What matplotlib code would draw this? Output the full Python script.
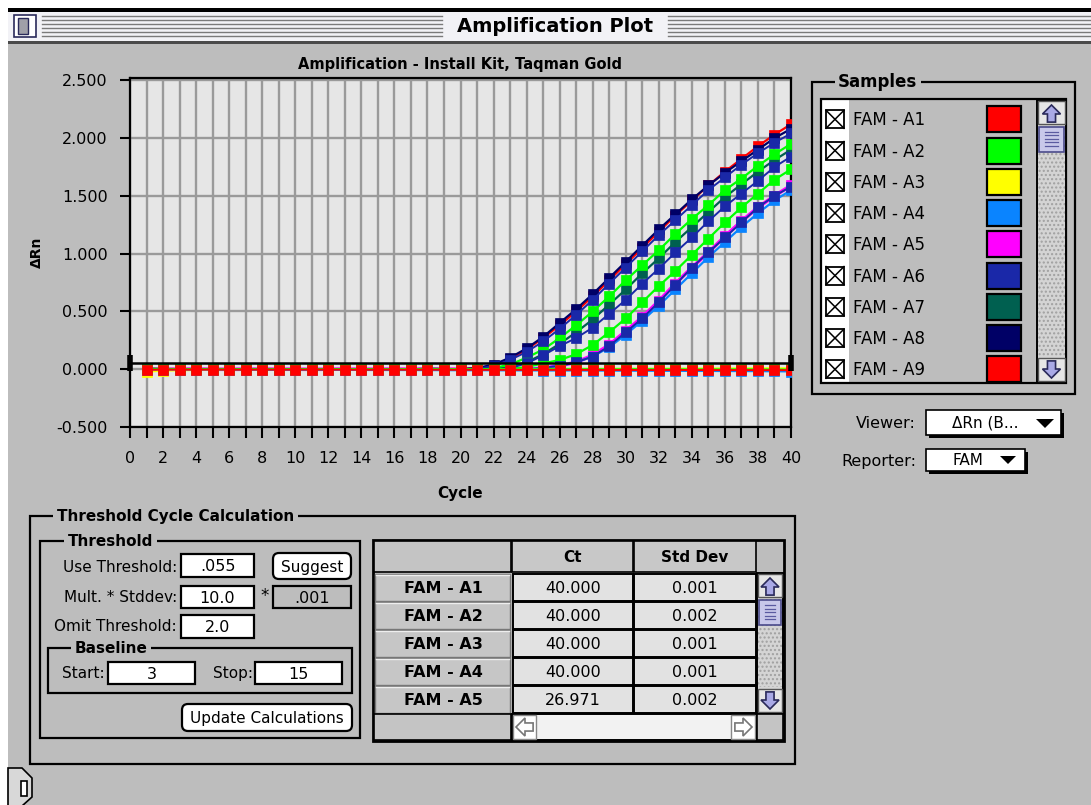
import matplotlib
matplotlib.use('Agg')
import matplotlib.pyplot as plt
from matplotlib.patches import Rectangle, FancyBboxPatch, Polygon

W, H = 1091, 805
BODY = '#bdbdbd'
PLOT_BG = '#e6e6e6'

# ---- data ----
cycles = list(range(1, 41))
rise_cycles = list(range(20, 41))

# baseline part (cycles 1-19) shared by the amplifying wells
pre_rise = [0.002, 0.001, 0.000, 0.001, 0.000, -0.001, 0.000, 0.001, 0.000, 0.000,
            -0.001, 0.000, 0.001, 0.000, 0.000, 0.001, 0.000, 0.002, 0.001]

# non-amplifying wells (cycles 1-40)
flat_a1 = [-0.004, -0.004, -0.003, -0.004, -0.003, -0.004, -0.004, -0.003, -0.004, -0.004,
           -0.003, -0.004, -0.004, -0.005, -0.004, -0.004, -0.005, -0.004, -0.005, -0.005,
           -0.005, -0.006, -0.005, -0.006, -0.006, -0.005, -0.006, -0.006, -0.007, -0.006,
           -0.007, -0.007, -0.006, -0.007, -0.007, -0.008, -0.007, -0.008, -0.008, -0.008]
flat_a2 = [0.004, 0.003, 0.003, 0.002, 0.003, 0.002, 0.002, 0.003, 0.002, 0.002,
           0.001, 0.002, 0.002, 0.001, 0.002, 0.001, 0.001, 0.002, 0.001, 0.001,
           0.002, 0.001, 0.001, 0.000, 0.001, 0.001, 0.000, 0.001, 0.000, 0.000,
           0.001, 0.000, 0.000, -0.001, 0.000, -0.001, 0.000, -0.001, -0.001, -0.002]
flat_a3 = [-0.022, -0.014, -0.010, -0.008, -0.006, -0.005, -0.004, -0.004, -0.003, -0.003,
           -0.002, -0.002, -0.001, -0.001, 0.000, 0.000, 0.000, 0.001, 0.001, 0.001,
           0.002, 0.002, 0.002, 0.003, 0.003, 0.003, 0.004, 0.004, 0.004, 0.005,
           0.005, 0.005, 0.006, 0.006, 0.007, 0.007, 0.008, 0.008, 0.009, 0.009]
flat_a4 = [-0.003, -0.003, -0.004, -0.004, -0.004, -0.005, -0.005, -0.005, -0.006, -0.006,
           -0.006, -0.007, -0.007, -0.007, -0.008, -0.008, -0.008, -0.009, -0.009, -0.010,
           -0.010, -0.010, -0.011, -0.011, -0.012, -0.012, -0.012, -0.013, -0.013, -0.014,
           -0.014, -0.015, -0.015, -0.016, -0.016, -0.017, -0.017, -0.018, -0.019, -0.020]

# amplifying wells (cycles 20-40)
rise_a = [0.00, 0.01, 0.04, 0.10, 0.18, 0.28, 0.40, 0.52, 0.65, 0.79, 0.93,
          1.07, 1.21, 1.34, 1.47, 1.59, 1.70, 1.80, 1.90, 2.00, 2.08]
rise_b = [0.00, 0.01, 0.03, 0.09, 0.17, 0.27, 0.38, 0.50, 0.63, 0.77, 0.91,
          1.05, 1.19, 1.33, 1.46, 1.59, 1.71, 1.82, 1.93, 2.03, 2.12]
rise_c = [0.00, 0.00, 0.03, 0.08, 0.15, 0.24, 0.35, 0.47, 0.60, 0.74, 0.88,
          1.02, 1.16, 1.29, 1.42, 1.55, 1.66, 1.77, 1.87, 1.96, 2.04]
rise_d = [0.00, 0.00, 0.01, 0.04, 0.10, 0.17, 0.27, 0.38, 0.50, 0.63, 0.77,
          0.90, 1.03, 1.17, 1.30, 1.42, 1.55, 1.65, 1.76, 1.86, 1.95]
rise_e = [0.00, 0.00, 0.00, 0.02, 0.06, 0.13, 0.22, 0.32, 0.43, 0.56, 0.69,
          0.83, 0.96, 1.10, 1.23, 1.36, 1.49, 1.60, 1.71, 1.81, 1.90]
rise_f = [0.00, 0.00, 0.00, 0.01, 0.05, 0.12, 0.20, 0.27, 0.36, 0.48, 0.60,
          0.74, 0.87, 1.01, 1.14, 1.28, 1.41, 1.52, 1.63, 1.75, 1.84]
rise_g = [0.00, 0.00, 0.00, 0.00, 0.02, 0.05, 0.08, 0.13, 0.21, 0.32, 0.44,
          0.58, 0.72, 0.85, 0.99, 1.13, 1.27, 1.40, 1.52, 1.64, 1.73]
rise_h = [0.00, 0.00, 0.00, 0.00, 0.00, 0.01, 0.03, 0.06, 0.11, 0.19, 0.30,
          0.42, 0.55, 0.69, 0.83, 0.97, 1.10, 1.23, 1.35, 1.46, 1.55]
rise_i = [0.00, 0.00, 0.00, 0.00, 0.00, 0.01, 0.03, 0.06, 0.12, 0.21, 0.33,
          0.45, 0.59, 0.74, 0.88, 1.01, 1.15, 1.28, 1.40, 1.50, 1.59]
rise_j = [0.00, 0.00, 0.00, 0.00, 0.00, 0.01, 0.03, 0.06, 0.11, 0.20, 0.32,
          0.44, 0.58, 0.73, 0.88, 1.01, 1.14, 1.27, 1.40, 1.50, 1.58]

threshold = 0.055

sample_names = ['FAM - A1', 'FAM - A2', 'FAM - A3', 'FAM - A4', 'FAM - A5',
                'FAM - A6', 'FAM - A7', 'FAM - A8', 'FAM - A9']
sample_colors = ['#ff0000', '#00ff00', '#ffff00', '#0a84ff', '#ff00ff',
                 '#1a28a8', '#006050', '#000066', '#ff0000']

table_names = ['FAM - A1', 'FAM - A2', 'FAM - A3', 'FAM - A4', 'FAM - A5']
table_ct = ['40.000', '40.000', '40.000', '40.000', '26.971']
table_std = ['0.001', '0.002', '0.001', '0.001', '0.002']

# draw order matters: later series sit on top
amp_series = [
    ('#ff00ff', rise_i, 2.6), ('#0a84ff', rise_h, 1.6), ('#ff0000', rise_b, 1.6),
    ('#006050', rise_e, 1.6), ('#000066', rise_a, 1.6), ('#00ff00', rise_d, 1.6),
    ('#00ff00', rise_g, 1.6), ('#1a28a8', rise_c, 1.4), ('#1a28a8', rise_f, 1.4),
    ('#1a28a8', rise_j, 1.4),
]
flat_series = [('#ffff00', flat_a3), ('#0a84ff', flat_a4), ('#00ff00', flat_a2), ('#ff0000', flat_a1)]

fig = plt.figure(figsize=(W / 100, H / 100), dpi=100)
fig.patch.set_facecolor('white')
bg = fig.add_axes([0, 0, 1, 1])
bg.set_xlim(0, W)
bg.set_ylim(H, 0)
bg.axis('off')


def box(x0, y0, x1, y1, fc='none', ec='black', lw=1.2, z=2, **kw):
    bg.add_patch(Rectangle((x0, y0), x1 - x0, y1 - y0, facecolor=fc, edgecolor=ec,
                           linewidth=lw, zorder=z, **kw))


def label(x, y, s, size=11, weight='normal', ha='left', va='center', color='black', z=5, **kw):
    bg.text(x, y, s, fontsize=size, fontweight=weight, ha=ha, va=va, color=color, zorder=z, **kw)


def group(x0, y0, x1, y1, title, tx, size=11):
    box(x0, y0, x1, y1, lw=1.6)
    bg.text(tx, y0, title, fontsize=size, fontweight='bold', ha='left', va='center', zorder=4,
            bbox=dict(facecolor=BODY, edgecolor='none', pad=2.5))


def field(x0, y0, x1, y1, text, fc='white', size=11.5):
    box(x0, y0, x1, y1, fc=fc, lw=1.6)
    label((x0 + x1) / 2, (y0 + y1) / 2 + 1, text, size, ha='center')


def button(x0, y0, x1, y1, text, size=11):
    bg.add_patch(FancyBboxPatch((x0, y0), x1 - x0, y1 - y0, boxstyle='round,pad=0,rounding_size=6',
                                facecolor='white', edgecolor='black', linewidth=1.6, zorder=2))
    label((x0 + x1) / 2, (y0 + y1) / 2 + 1, text, size, ha='center')


def arrow(cx, cy, s, direction, fc='#a9a9e6', ec='#2a2a5a'):
    pts = [(0, -1), (1, 0), (0.45, 0), (0.45, 0.9), (-0.45, 0.9), (-0.45, 0), (-1, 0)]
    if direction == 'down':
        pts = [(x, -y) for x, y in pts]
    elif direction == 'left':
        pts = [(y, x) for x, y in pts]
    elif direction == 'right':
        pts = [(-y, x) for x, y in pts]
    bg.add_patch(Polygon([(cx + x * s, cy + y * s) for x, y in pts], closed=True,
                         facecolor=fc, edgecolor=ec, linewidth=1.2, zorder=4))


def vscroll(x0, y0, x1, y1, thumb_h=25):
    box(x0, y0, x1, y1, fc='#d4d4d4', ec='black', lw=1.4)
    box(x0 + 1, y0 + 26, x1 - 1, y1 - 26, fc='#d4d4d4', ec='#a0a0a0', lw=0, hatch='....', z=2)
    box(x0 + 1, y0 + 1, x1 - 1, y0 + 24, fc='#e6e6e6', ec='#555555', lw=1)
    box(x0 + 1, y1 - 24, x1 - 1, y1 - 1, fc='#e6e6e6', ec='#555555', lw=1)
    arrow((x0 + x1) / 2, y0 + 14, 9, 'up')
    arrow((x0 + x1) / 2, y1 - 13, 9, 'down')
    box(x0 + 2, y0 + 27, x1 - 2, y0 + 27 + thumb_h, fc='#c8c8ea', ec='#4a4a8a', lw=1.2, z=3)
    for k in range(5):
        yy = y0 + 32 + k * 3.5
        bg.plot([x0 + 8, x1 - 8], [yy, yy], color='#5a5aa0', lw=0.9, zorder=4)


# ---- window chrome ----
box(8, 8, W + 1, H + 1, fc=BODY, ec='none', z=0)
box(8, 8, W + 1, 12, fc='black', ec='none', z=1)
box(8, 12, W + 1, 41, fc='#f2f2f6', ec='none', z=1)
for yy in [16, 20, 24, 28, 32, 36]:
    bg.plot([42, 442], [yy, yy], color='#7a7a7a', lw=1, zorder=2)
    bg.plot([668, W], [yy, yy], color='#7a7a7a', lw=1, zorder=2)
box(8, 41, W + 1, 44, fc='#4a4a4a', ec='none', z=1)
box(14, 15, 36, 37, fc='white', ec='#2a2a5a', lw=1.2, z=3)
box(18, 18, 28, 34, fc='#a0a0a8', ec='#2a2a5a', lw=1, z=3)
label(555, 27, 'Amplification Plot', 14, 'bold', ha='center')

# grow icon bottom-left
bg.add_patch(Polygon([(8, 768), (22, 768), (32, 778), (32, 797), (22, 806), (8, 806)],
                     closed=True, facecolor='#d8d8d8', edgecolor='black', linewidth=1.2, zorder=3))
box(21, 781, 27, 796, fc='white', ec='black', lw=1.2, z=4)

# ---- amplification plot ----
ax = fig.add_axes([130 / W, 1 - 427 / H, 661 / W, 349 / H])
ax.set_facecolor(PLOT_BG)
ax.set_xlim(0, 40)
ax.set_ylim(-0.5, 2.52)
ax.set_xticks(range(0, 41))
ax.set_xticklabels([str(c) if c % 2 == 0 else '' for c in range(0, 41)])
ax.set_yticks([-0.5, 0.0, 0.5, 1.0, 1.5, 2.0, 2.5])
ax.set_yticklabels(['%.3f' % v for v in [-0.5, 0.0, 0.5, 1.0, 1.5, 2.0, 2.5]])
ax.tick_params(axis='x', direction='out', length=8, width=1.5, labelsize=11.5, pad=9)
ax.tick_params(axis='y', direction='out', length=7, width=1.5, labelsize=11.5, pad=9)
ax.grid(True, color='#9a9a9a', linewidth=1.7)
ax.set_axisbelow(True)
for sp in ax.spines.values():
    sp.set_linewidth(1.6)

for color, vals, lw in amp_series:
    ax.plot(cycles, pre_rise + vals, color=color, lw=lw, marker='s', ms=7,
            mec=color, mew=0.5, zorder=3)
for color, vals in flat_series:
    ax.plot(cycles, vals, color=color, lw=1.4, marker='s', ms=7, mec=color, mew=0.5, zorder=4)

ax.axhline(threshold, color='black', lw=1.8, zorder=6)
ax.plot([0, 40], [threshold, threshold], ls='none', marker='|', ms=11, mew=4,
        color='black', clip_on=False, zorder=7)

label(460, 65, 'Amplification - Install Kit, Taqman Gold', 10.5, 'bold', ha='center')
label(460, 493, 'Cycle', 11, 'bold', ha='center')
label(37, 252, 'ΔRn', 10, 'bold', ha='center', rotation=90)

# ---- samples legend ----
group(812, 82, 1075, 394, 'Samples', 838, 12)
box(821, 99, 1066, 383, lw=1.6)
box(822, 100, 849, 382, fc='white', ec='none', z=1)
for i, (name, color) in enumerate(zip(sample_names, sample_colors)):
    cy = 119.3 + i * 31.25
    box(826, cy - 9, 844, cy + 9, fc='white', lw=1.3, z=3)
    bg.plot([826, 844], [cy - 9, cy + 9], color='black', lw=1.1, zorder=4)
    bg.plot([826, 844], [cy + 9, cy - 9], color='black', lw=1.1, zorder=4)
    label(853, cy + 1, name, 12)
    box(987, cy - 13, 1021, cy + 13, fc=color, lw=1.6, z=3)
vscroll(1037, 100, 1066, 382)

# viewer / reporter
label(916, 423, 'Viewer:', 11.5, ha='right')
box(929, 413, 1064, 438, fc='black', ec='none', z=2)
box(926, 410, 1061, 435, fc='white', lw=1.2, z=3)
label(952, 423, 'ΔRn (B...', 11, z=4)
bg.add_patch(Polygon([(1036, 419), (1054, 419), (1045, 428)], closed=True, facecolor='black', zorder=4))
label(916, 461, 'Reporter:', 11.5, ha='right')
box(929, 452, 1028, 474, fc='black', ec='none', z=2)
box(926, 449, 1025, 471, fc='white', lw=1.2, z=3)
label(952, 460, 'FAM', 11, z=4)
bg.add_patch(Polygon([(1000, 456), (1016, 456), (1008, 464)], closed=True, facecolor='black', zorder=4))

# ---- threshold cycle calculation ----
group(30, 516, 795, 764, 'Threshold Cycle Calculation', 57, 11)
group(40, 541, 360, 738, 'Threshold', 68, 11)
label(177, 567, 'Use Threshold:', 11, ha='right')
field(181, 554, 254, 577, '.055')
button(273, 553, 351, 579, 'Suggest')
label(177, 597, 'Mult. * Stddev:', 11, ha='right')
field(181, 586, 254, 608, '10.0')
label(265, 596, '*', 12, ha='center')
field(273, 586, 351, 608, '.001', fc=BODY)
label(177, 626, 'Omit Threshold:', 11, ha='right')
field(181, 615, 254, 638, '2.0')
group(48, 648, 352, 693, 'Baseline', 75, 11)
label(105, 673, 'Start:', 11, ha='right')
field(108, 662, 195, 684, '3')
label(253, 673, 'Stop:', 11, ha='right')
field(255, 662, 342, 684, '15')
button(182, 704, 352, 731, 'Update Calculations')

# table
box(373, 540, 784, 741, fc=BODY, lw=2)
box(374, 541, 511, 572, fc='#c4c4c4', ec='black', lw=1.2)
box(512, 541, 633, 572, fc='#c8c8c8', ec='black', lw=1.2)
box(634, 541, 756, 572, fc='#c8c8c8', ec='black', lw=1.2)
label(572, 557, 'Ct', 11, 'bold', ha='center')
label(695, 557, 'Std Dev', 11, 'bold', ha='center')
for i, (name, ct, sd) in enumerate(zip(table_names, table_ct, table_std)):
    y0 = 574 + i * 28
    y1 = y0 + 26.5
    box(375, y0, 510, y1, fc='#c6c6c6', ec='#777777', lw=1)
    bg.plot([376, 509], [y0 + 1, y0 + 1], color='#eeeeee', lw=1, zorder=3)
    label(443, (y0 + y1) / 2 + 1, name, 11.5, 'bold', ha='center')
    box(513, y0, 633, y1, fc='#e2e2e2', lw=1.4)
    label(573, (y0 + y1) / 2 + 1, ct, 11.5, ha='center')
    box(634, y0, 756, y1, fc='#e2e2e2', lw=1.4)
    label(695, (y0 + y1) / 2 + 1, sd, 11.5, ha='center')
vscroll(757, 573, 783, 713)
box(374, 714, 511, 740, fc='#c4c4c4', ec='black', lw=1.2)
box(512, 714, 756, 740, fc='#f2f2f2', ec='black', lw=1.4)
box(513, 715, 536, 739, fc='white', ec='#888888', lw=1)
box(731, 715, 755, 739, fc='white', ec='#888888', lw=1)
arrow(525, 727, 9, 'left', fc='white', ec='#777777')
arrow(743, 727, 9, 'right', fc='white', ec='#777777')
box(757, 714, 783, 740, fc='#c4c4c4', ec='black', lw=1.2)

fig.savefig('out.png', dpi=100, facecolor=fig.get_facecolor())
